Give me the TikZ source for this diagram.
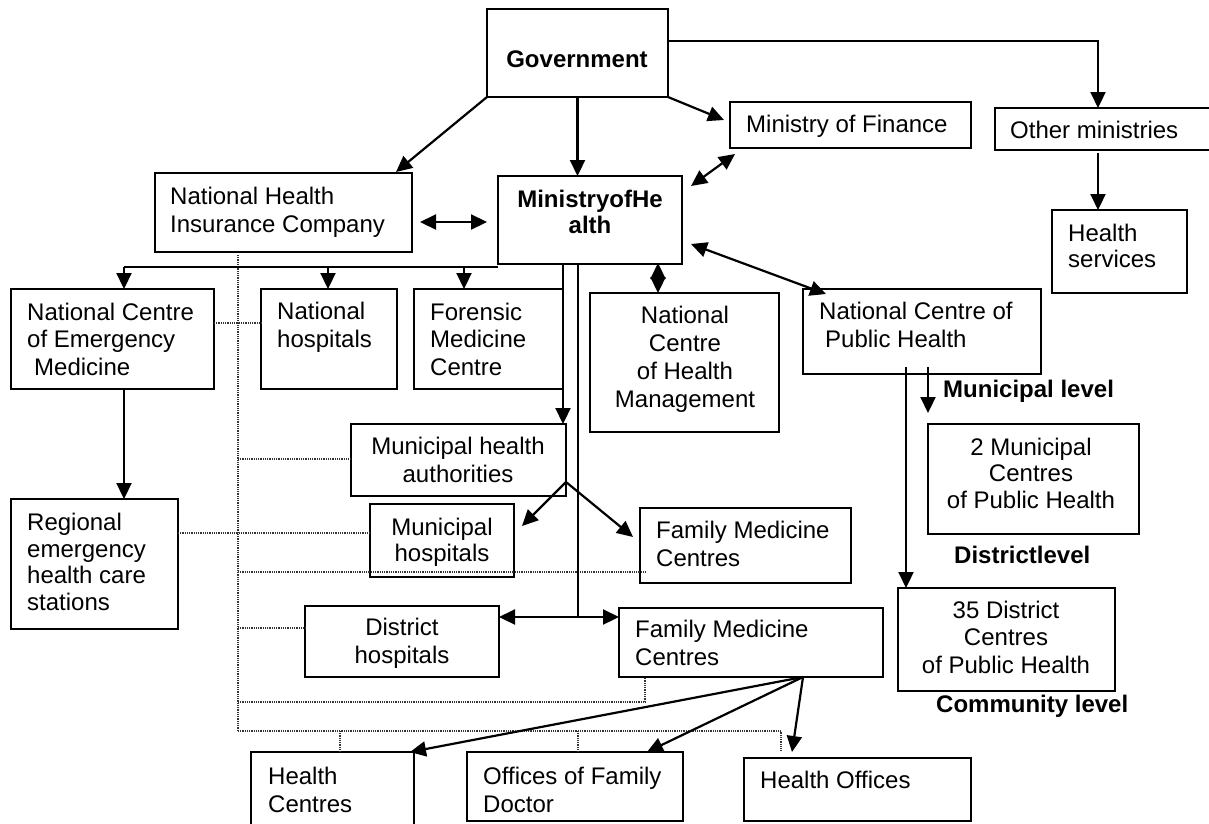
\documentclass[tikz,border=0pt]{standalone}
\usepackage{fontspec}
\setmainfont{Liberation Sans}
\usetikzlibrary{arrows.meta,calc}
\newcommand\fsz{\fontsize{24}{27.5}\selectfont}
\begin{document}
\begin{tikzpicture}[x=1pt,y=-1pt,
 box/.style={draw, line width=1.9pt, inner sep=0pt, outer sep=0pt, anchor=north west},
 txt/.style={inner sep=0pt, font=\fsz, align=left, anchor=base west},
 ctxt/.style={inner sep=0pt, font=\fsz, align=center, anchor=base},
 btxt/.style={inner sep=0pt, font=\fsz\bfseries, align=left, anchor=base west},
 arr/.style={line width=2.2pt, -{Triangle[length=16pt,width=15pt]}},
 darr/.style={line width=2.2pt, {Triangle[length=16pt,width=15pt]}-{Triangle[length=16pt,width=15pt]}},
 ln/.style={line width=2.2pt},
 dotl/.style={line width=1.4pt, black!80, dash pattern=on 1pt off 0.8pt}]
\useasboundingbox (0,0) rectangle (1209,823);
\clip (0,0) rectangle (1209,823);

% boxes
\node[box, minimum width=181pt, minimum height=88pt] (gov) at (487,9) {};
\node[box, minimum width=241pt, minimum height=46pt] (mof) at (730,102) {};
\node[box, minimum width=215pt, minimum height=42pt] (oth) at (995,108) {};
\node[box, minimum width=135pt, minimum height=83pt] (hs) at (1052,210) {};
\node[box, minimum width=184pt, minimum height=88pt] (moh) at (498,176) {};
\node[box, minimum width=257pt, minimum height=79pt] (nhic) at (155,173) {};
\node[box, minimum width=203pt, minimum height=100pt] (ncem) at (11,289) {};
\node[box, minimum width=136pt, minimum height=100pt] (nh) at (261,289) {};
\node[box, minimum width=149pt, minimum height=100pt] (fore) at (414,289) {};
\node[box, minimum width=189pt, minimum height=139pt] (nchm) at (590,293) {};
\node[box, minimum width=238pt, minimum height=85pt] (ncph) at (803,289) {};
\node[box, minimum width=211pt, minimum height=110pt] (mtwo) at (928,424) {};
\node[box, minimum width=217pt, minimum height=103pt] (dtf) at (898,588) {};
\node[box, minimum width=215pt, minimum height=72pt] (mha) at (351,424) {};
\node[box, minimum width=144pt, minimum height=73pt] (mhosp) at (370,504) {};
\node[box, minimum width=211pt, minimum height=75pt] (famone) at (640,508) {};
\node[box, minimum width=167pt, minimum height=130pt] (reg) at (11,499) {};
\node[box, minimum width=194pt, minimum height=71pt] (dh) at (305,606) {};
\node[box, minimum width=264pt, minimum height=69pt] (famtwo) at (619,608) {};
\node[box, minimum width=163pt, minimum height=100pt] (hc) at (251,752) {};
\node[box, minimum width=216pt, minimum height=69pt] (ofd) at (467,752) {};
\node[box, minimum width=227pt, minimum height=63pt] (ho) at (744,758) {};

% texts (multi-line nodes are placed at the baseline of their last line)
\node[ctxt, font=\fsz\bfseries] (tgov) at (577,67) {Government};
\node[ctxt, font=\fontsize{24}{26}\selectfont\bfseries] (tmoh) at (590,233) {MinistryofHe\\alth};
\node[txt] (tnhic) at (170,232) {National Health\\Insurance Company};
\node[txt] (tmof) at (746,132) {Ministry of Finance};
\node[txt] (toth) at (1010,138) {Other ministries};
\node[txt, font=\fontsize{24}{26}\selectfont] (ths) at (1068,267) {Health\\services};
\node[txt] (tncem) at (27,375) {National Centre\\of Emergency\\\hspace*{7pt}Medicine};
\node[txt] (tnh) at (277,347) {National\\hospitals};
\node[txt] (tfore) at (430,375) {Forensic\\Medicine\\Centre};
\node[ctxt, font=\fontsize{24}{28}\selectfont] (tnchm) at (685,407) {National\\Centre\\of Health\\Management};
\node[txt] (tncph) at (819,347) {National Centre of\\\hspace*{6pt}Public Health};
\node[btxt] (tml) at (943,397) {Municipal level};
\node[ctxt, font=\fontsize{24}{26.5}\selectfont] (tmtwo) at (1031,508) {2 Municipal\\Centres\\of Public Health};
\node[btxt] (tdl) at (954,563) {Districtlevel};
\node[ctxt] (tdtf) at (1006,673) {35 District\\Centres\\of Public Health};
\node[btxt] (tcl) at (936,712) {Community level};
\node[ctxt, font=\fontsize{24}{28}\selectfont] (tmha) at (458,482) {Municipal health\\authorities};
\node[ctxt, font=\fontsize{24}{26}\selectfont] (tmhosp) at (442,561) {Municipal\\hospitals};
\node[txt, font=\fontsize{24}{28}\selectfont] (tfamone) at (656,566) {Family Medicine\\Centres};
\node[txt, font=\fontsize{24}{26.5}\selectfont] (treg) at (27,610) {Regional\\emergency\\health care\\stations};
\node[ctxt] (tdh) at (402,663) {District\\hospitals};
\node[txt] (tfamtwo) at (635,665) {Family Medicine\\Centres};
\node[txt] (thc) at (268,812) {Health\\Centres};
\node[txt] (tofd) at (483,812) {Offices of Family\\Doctor};
\node[txt] (tho) at (760,788) {Health Offices};

% free-end coordinates
\coordinate (dtop) at (238,255);
\coordinate (d1) at (238,459);
\coordinate (d2) at (238,572);
\coordinate (d2e) at (645,572);
\coordinate (d3) at (238,628);
\coordinate (d4) at (238,702);
\coordinate (d4e) at (645,702);
\coordinate (d5) at (238,731);
\coordinate (d5e) at (781,731);
\coordinate (d5f) at (781,751);
\coordinate (dhc) at (340,731);
\coordinate (dofd) at (578,731);

% dotted links
\draw[dotl] (dtop) -- (d5);
\draw[dotl] (ncem.east |- 0,323) -- (nh.west |- 0,323);
\draw[dotl] (d1) -- (mha.west |- d1);
\draw[dotl] (reg.east |- 0,533) -- (mhosp.west |- 0,533);
\draw[dotl] (d2) -- (d2e);
\draw[dotl] (d3) -- (dh.west |- d3);
\draw[dotl] (d4) -- (d4e) -- (d4e |- famtwo.south);
\draw[dotl] (d5) -- (d5e) -- (d5f);
\draw[dotl] (dhc) -- (dhc |- hc.north);
\draw[dotl] (dofd) -- (dofd |- ofd.north);

% coordinates for arrows
\coordinate (gnh) at (396,172);
\coordinate (gmf) at (724,120);
\coordinate (gor) at (668,41);
\coordinate (otop) at (1098,108);
\coordinate (obot) at (1098,153);
\coordinate (mfa) at (735,154);
\coordinate (mfb) at (691,186);
\coordinate (mpa) at (691,244);
\coordinate (mpb) at (826,294);
\coordinate (nma) at (420,222);
\coordinate (nmb) at (487,222);
\coordinate (bar) at (498,267);
\coordinate (b1) at (124,267);
\coordinate (b2) at (328,267);
\coordinate (b3) at (464,267);
\coordinate (va) at (563,264);
\coordinate (vb) at (578,264);
\coordinate (vbe) at (578,617);
\coordinate (apex) at (566,482);
\coordinate (tmh) at (522,526);
\coordinate (tf1) at (633,537);
\coordinate (fa) at (803,677);
\coordinate (thc) at (410,752);
\coordinate (tof) at (647,752);
\coordinate (tho2) at (792,752);
\coordinate (pl1) at (906,367);
\coordinate (pl2) at (928,367);
\coordinate (pl2e) at (928,413);

% arrows
\draw[arr] (gov.south west) -- (gnh);
\draw[arr] (gov.south) -- (gov.south |- moh.north);
\draw[arr] (gov.south east) -- (gmf);
\draw[arr] (gor) -| (otop);
\draw[arr] (obot) -- (obot |- hs.north);
\draw[darr] (mfa) -- (mfb);
\draw[darr] (mpa) -- (mpb);
\draw[darr] (nma) -- (nmb);
\draw[darr, shorten <=-1pt] (658,264) -- (658,293);
\draw[ln] (bar) -- (b1);
\draw[arr] (b1) -- (b1 |- ncem.north);
\draw[arr] (b2) -- (b2 |- nh.north);
\draw[arr] (b3) -- (b3 |- fore.north);
\draw[arr] (va) -- (va |- mha.north);
\draw[ln] (vb) -- (vbe);
\draw[darr] (dh.east |- vbe) -- (famtwo.west |- vbe);
\draw[arr] (apex) -- (tmh);
\draw[arr] (apex) -- (tf1);
\draw[arr] (b1 |- ncem.south) -- (b1 |- reg.north);
\draw[arr] (pl2) -- (pl2e);
\draw[arr] (pl1) -- (pl1 |- dtf.north);
\draw[arr] (fa) -- (thc);
\draw[arr] (fa) -- (tof);
\draw[arr] (fa) -- (tho2);
\end{tikzpicture}
\end{document}
